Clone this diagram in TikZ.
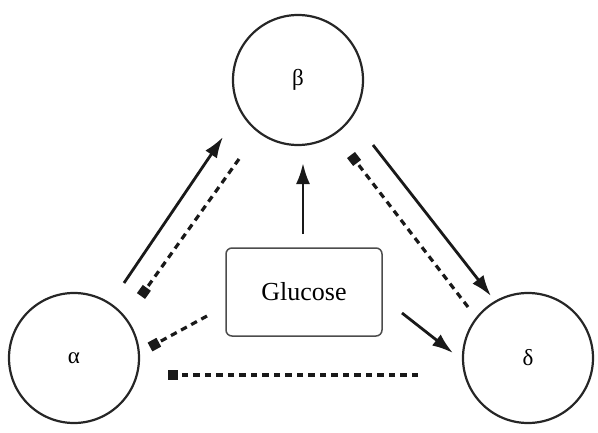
\documentclass[tikz,border=0pt]{standalone}
\usepackage{fontspec}
\setmainfont{Liberation Serif}
\usetikzlibrary{arrows.meta}
\begin{document}
\begin{tikzpicture}[x=1pt,y=-1pt,
  cell/.style={draw=black!85,line width=2.2pt,circle,minimum size=130pt,inner sep=0pt,font=\fontsize{23}{27}\selectfont},
  gbox/.style={draw=black!70,line width=1.5pt,rounded corners=6pt,minimum width=156pt,minimum height=88pt,font=\fontsize{26}{30}\selectfont},
  stim/.style={line width=2.8pt,draw=black!90,-{Latex[length=21pt,width=14pt]}},
  inhib/.style={line width=3.2pt,draw=black!90,dash pattern=on 6.5pt off 5pt,-{Square[length=10pt,width=10pt]}}]
\useasboundingbox (0,0) rectangle (598,432);
\node[cell] (beta) at (298,80) {β};
\node[cell] (alpha) at (74,358) {α};
\node[cell] (delta) at (528,358) {δ};
\node[gbox] (glu) at (304,292) {Glucose};
% endpoints
\coordinate (ab1) at (124,283); \coordinate (ab2) at (223,137);
\coordinate (ba1) at (239,159); \coordinate (ba2) at (141,296);
\coordinate (bd1) at (373,145); \coordinate (bd2) at (491,296);
\coordinate (db1) at (468,307); \coordinate (db2) at (351,155);
\coordinate (gb1) at (303,234); \coordinate (gb2) at (303,163);
\coordinate (gd1) at (402,313); \coordinate (gd2) at (453,353);
\coordinate (ga1) at (207,316); \coordinate (ga2) at (150,347);
\coordinate (da1) at (418,375); \coordinate (da2) at (168,375);
\draw[stim] (ab1) -- (ab2);
\draw[inhib] (ba1) -- (ba2);
\draw[stim] (bd1) -- (bd2);
\draw[inhib] (db1) -- (db2);
\draw[stim] (gb1) -- (gb2);
\draw[stim] (gd1) -- (gd2);
\draw[inhib] (ga1) -- (ga2);
\draw[inhib] (da1) -- (da2);
\end{tikzpicture}
\end{document}
